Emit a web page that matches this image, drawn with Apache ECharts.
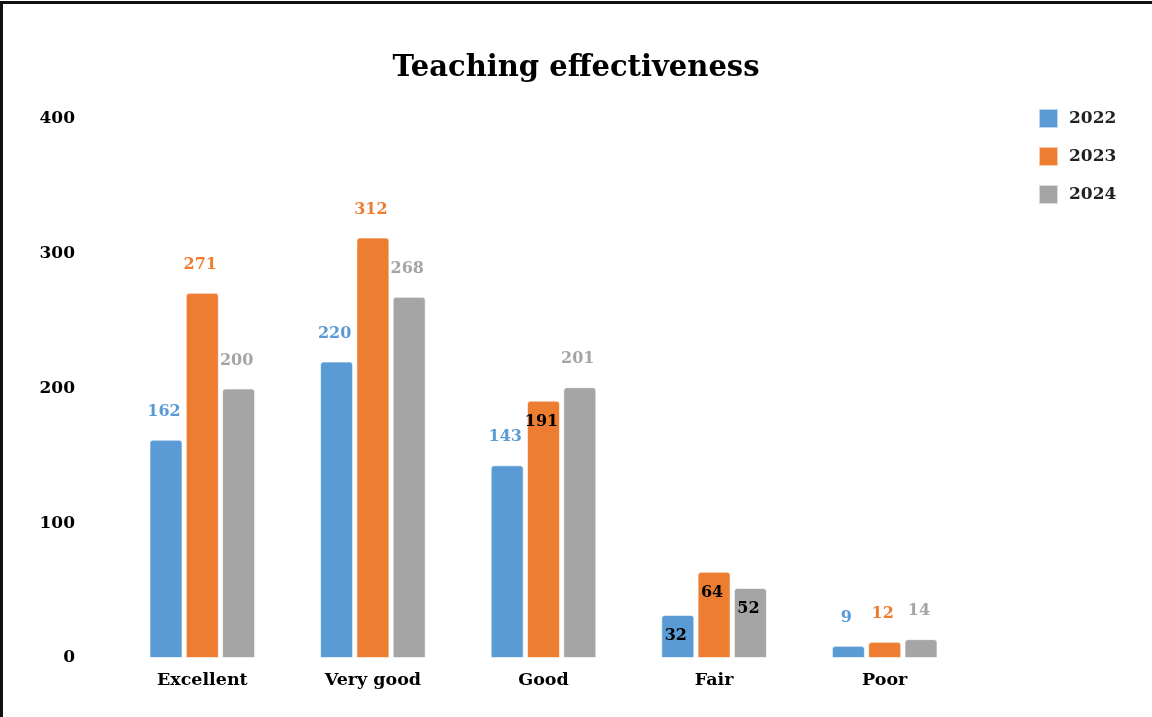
<!DOCTYPE html>
<html>
<head>
<meta charset="utf-8">
<script src="https://cdn.jsdelivr.net/npm/echarts@6/dist/echarts.min.js"></script>
<style>
  html, body { margin: 0; padding: 0; background: #fff; }
  #main { width: 1152px; height: 717px; position: relative; }
  #frame { position: absolute; left: 0; top: 1px; width: 1152px; height: 716px;
    border-top: 3px solid #111; border-left: 3px solid #111; box-sizing: border-box; pointer-events: none; }
</style>
</head>
<body>
<div id="main"></div>
<div id="frame"></div>
<script>
const categories = ['Excellent', 'Very good', 'Good', 'Fair', 'Poor']
const years = ['2022', '2023', '2024']
const values2022 = [162, 220, 143, 32, 9]
const values2023 = [271, 312, 191, 64, 12]
const values2024 = [200, 268, 201, 52, 14]
const yTicks = [0, 100, 200, 300, 400]

// labels that sit inside the bar top in the original, drawn black
const insideLabels = { 1: [2, 3], 0: [3], 2: [3] }

const colors = ['#5B9BD5', '#ED7D31', '#A5A5A5']
const labelColors = ['#5B9BD5', '#ED7D31', '#A5A5A5']
const fontFamily = '"DejaVu Serif", Georgia, serif'

const seriesValues = [values2022, values2023, values2024]

const chart = echarts.init(document.getElementById('main'))

const series = seriesValues.map((vals, si) => {
  const inside = insideLabels[si] || []
  return {
    name: years[si],
    type: 'bar',
    barWidth: 33,
    barGap: '10%',
    itemStyle: {
      color: colors[si],
      borderColor: 'rgba(255,255,255,0.6)',
      borderWidth: 1,
      borderRadius: [3, 3, 0, 0]
    },
    label: {
      show: true,
      position: 'top',
      distance: 20,
      offset: [-2, 0],
      color: labelColors[si],
      fontFamily: fontFamily,
      fontWeight: 'bold',
      fontSize: 16
    },
    data: vals.map((v, di) => {
      if (inside.indexOf(di) === -1) return v
      return {
        value: v,
        label: { position: 'insideTop', distance: 13, color: '#000' }
      }
    })
  }
})

chart.setOption({
  animation: false,
  title: {
    text: 'Teaching effectiveness',
    left: 'center',
    top: 49,
    textStyle: {
      fontFamily: fontFamily,
      fontWeight: 'bold',
      fontSize: 29,
      color: '#000'
    }
  },
  legend: {
    orient: 'vertical',
    left: 1038,
    top: 108,
    padding: 0,
    itemWidth: 19,
    itemHeight: 19,
    itemGap: 17,
    icon: 'rect',
    data: years,
    textStyle: {
      fontFamily: fontFamily,
      fontWeight: 'bold',
      fontSize: 17,
      lineHeight: 19,
      color: '#222',
      padding: [0, 0, 0, 6]
    }
  },
  grid: {
    left: 117,
    right: 182,
    top: 119,
    bottom: 59,
    containLabel: false
  },
  xAxis: {
    type: 'category',
    data: categories,
    axisLine: { show: false },
    axisTick: { show: false },
    axisLabel: {
      margin: 13,
      fontFamily: fontFamily,
      fontWeight: 'bold',
      fontSize: 17.5,
      color: '#000'
    }
  },
  yAxis: {
    type: 'value',
    min: yTicks[0],
    max: yTicks[yTicks.length - 1],
    interval: 100,
    splitLine: { show: false },
    axisLine: { show: false },
    axisTick: { show: false },
    axisLabel: {
      margin: 42,
      fontFamily: fontFamily,
      fontWeight: 'bold',
      fontSize: 17,
      color: '#000'
    }
  },
  series: series
})
</script>
</body>
</html>
